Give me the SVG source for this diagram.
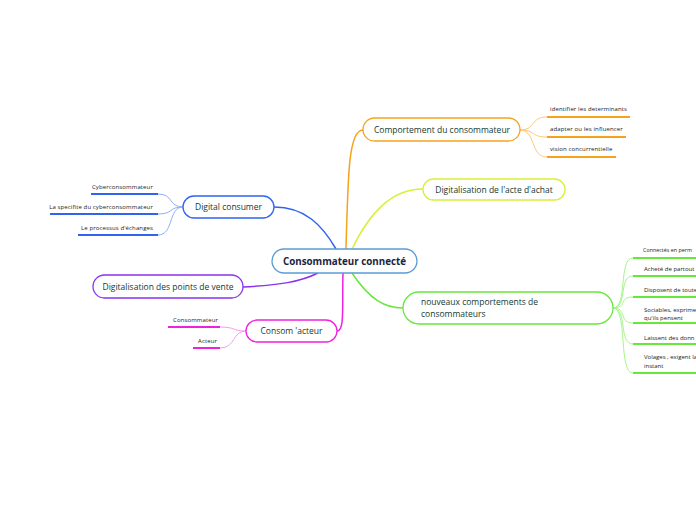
<svg xmlns="http://www.w3.org/2000/svg" width="696" height="520" viewBox="0 0 696 520">
<style>
text{font-family:"Open Sans","Noto Sans","DejaVu Sans",sans-serif;}
.nt{font-size:8.5px;fill:#123a30;}
.lt{font-size:6px;fill:#222;letter-spacing:0.12px;}
.gt{font-size:6px;fill:#222;}
.node{fill:#fff;stroke-width:1.3;}
.c{fill:none;stroke-width:1.5;}
.lc{fill:none;stroke-width:1;}
.ul{fill:none;stroke-width:2;}
</style>
<rect width="696" height="520" fill="#fff"/>
<g id="connectors">
  <path class="c" stroke="#f7a21b" d="M346,249 C348,170 349,130 363,130"/>
  <path class="c" stroke="#d9f03a" d="M352,249 C370,212 392,189 423,189"/>
  <path class="c" stroke="#2f63f0" d="M274,207 C305,207 322,225 336,249"/>
  <path class="c" stroke="#8a32f0" d="M243,287 C280,285 300,282 318,273"/>
  <path class="c" stroke="#ee22dd" d="M343,273 C342,305 345,331 337,331"/>
  <path class="c" stroke="#66e83a" d="M352,273 C370,300 385,308 403,308"/>
  <g stroke="#ffc978">
    <path class="lc" d="M520,130 C536,130 530,117 547,117"/>
    <path class="lc" d="M520,130 C536,130 530,137 547,137"/>
    <path class="lc" d="M520,130 C536,130 530,157 547,157"/>
  </g>
  <g stroke="#f7a21b">
    <path class="ul" d="M547,117 H630"/>
    <path class="ul" d="M547,137 H626"/>
    <path class="ul" d="M547,157 H616"/>
  </g>
  <g stroke="#8fb0f7">
    <path class="lc" d="M183,207 C168,207 174,194 158,194"/>
    <path class="lc" d="M183,207 C168,207 174,214 158,214"/>
    <path class="lc" d="M183,207 C168,207 174,235 158,235"/>
  </g>
  <g stroke="#2f63f0">
    <path class="ul" d="M91,194 H158"/>
    <path class="ul" d="M50,214 H158"/>
    <path class="ul" d="M78,235 H158"/>
  </g>
  <g stroke="#f59cef">
    <path class="lc" d="M246,331 C232,331 236,327 220,327"/>
    <path class="lc" d="M246,331 C232,331 236,348 220,348"/>
  </g>
  <g stroke="#ee22dd">
    <path class="ul" d="M168,327 H220"/>
    <path class="ul" d="M193,348 H220"/>
  </g>
  <g stroke="#a6f58c">
    <path class="lc" d="M613,308 C628,308 618,258 633,258"/>
    <path class="lc" d="M613,308 C628,308 618,276 633,276"/>
    <path class="lc" d="M613,308 C628,308 618,297 633,297"/>
    <path class="lc" d="M613,308 C628,308 618,323 633,323"/>
    <path class="lc" d="M613,308 C628,308 618,344 633,344"/>
    <path class="lc" d="M613,308 C628,308 618,373 633,373"/>
  </g>
  <g stroke="#66e83a">
    <path class="ul" d="M633,258 H700"/>
    <path class="ul" d="M633,276 H700"/>
    <path class="ul" d="M633,297 H700"/>
    <path class="ul" d="M633,323 H700"/>
    <path class="ul" d="M633,344 H700"/>
    <path class="ul" d="M633,373 H700"/>
  </g>
</g>
<g id="center">
  <rect x="272" y="249" width="145" height="24" rx="12" fill="#fff" stroke="#5b9bd5" stroke-width="1.3"/>
  <text x="344.5" y="265" text-anchor="middle" font-size="9.8" font-weight="bold" fill="#1a2440">Consommateur connecté</text>
</g>
<g id="comportement">
  <rect class="node" x="363" y="118" width="157" height="23" rx="11.5" stroke="#f7a21b"/>
  <text class="nt" x="442" y="133" text-anchor="middle">Comportement du consommateur</text>
</g>
<g id="leaf-identifier"><text class="lt" x="550" y="111">identifier les determinants</text></g>
<g id="leaf-adapter"><text class="lt" x="550" y="131">adapter ou les influencer</text></g>
<g id="leaf-vision"><text class="lt" x="550" y="151">vision concurrentielle</text></g>
<g id="acte-achat">
  <rect class="node" x="423" y="179" width="142" height="21" rx="10.5" stroke="#d9f03a"/>
  <text class="nt" x="494" y="193" text-anchor="middle">Digitalisation de l'acte d'achat</text>
</g>
<g id="nouveaux">
  <rect class="node" x="403" y="292" width="210" height="32" rx="16" stroke="#66e83a"/>
  <text class="nt" x="421" y="305">nouveaux comportements de</text>
  <text class="nt" x="421" y="317">consommateurs</text>
</g>
<g id="leaf-connectes"><text class="gt" x="643" y="252" textLength="49" lengthAdjust="spacingAndGlyphs">Connectés en perm</text></g>
<g id="leaf-achete"><text class="gt" x="644" y="271">Acheté de partout</text></g>
<g id="leaf-disposent"><text class="gt" x="644" y="292">Disposent de toute</text></g>
<g id="leaf-sociables"><text class="gt" x="644" y="312">Sociables, exprime</text><text class="gt" x="644" y="320">qu'ils pensent</text></g>
<g id="leaf-laissent"><text class="gt" x="644" y="340">Laissent des donn</text></g>
<g id="leaf-volages"><text class="gt" x="644" y="359">Volages , exigent la</text><text class="gt" x="644" y="368">instant</text></g>
<g id="digital-consumer">
  <rect class="node" x="183" y="196" width="91" height="22" rx="11" stroke="#2f63f0"/>
  <text class="nt" x="228.5" y="210" text-anchor="middle">Digital consumer</text>
</g>
<g id="leaf-cyber"><text class="lt" x="153" y="189" text-anchor="end">Cyberconsommateur</text></g>
<g id="leaf-specifite"><text class="lt" x="153" y="209" text-anchor="end">La specifite du cyberconsommateur</text></g>
<g id="leaf-processus"><text class="lt" x="153" y="230" text-anchor="end">Le processus d'échanges</text></g>
<g id="points-vente">
  <rect class="node" x="93" y="275" width="150" height="23" rx="11.5" stroke="#8a32f0"/>
  <text class="nt" x="168" y="290" text-anchor="middle">Digitalisation des points de vente</text>
</g>
<g id="consomacteur">
  <rect class="node" x="246" y="320" width="91" height="22" rx="11" stroke="#ee22dd"/>
  <text class="nt" x="291.5" y="334" text-anchor="middle">Consom 'acteur</text>
</g>
<g id="leaf-consommateur"><text class="lt" x="173" y="322">Consommateur</text></g>
<g id="leaf-acteur"><text class="lt" x="198" y="343">Acteur</text></g>
</svg>
